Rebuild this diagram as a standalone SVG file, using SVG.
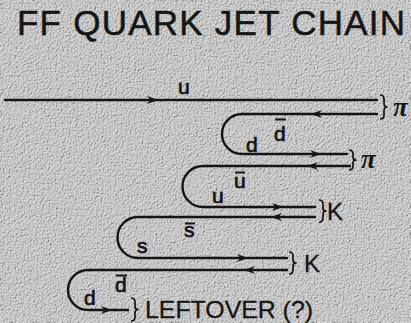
<svg xmlns="http://www.w3.org/2000/svg" xmlns:xlink="http://www.w3.org/1999/xlink" width="411" height="323" viewBox="0 0 411 323">
<style>
.ln{fill:none;stroke:#151515;stroke-width:2.4;stroke-linecap:round}
.br{fill:none;stroke:#151515;stroke-width:1.7;stroke-linejoin:round}
.ov{stroke:#151515;stroke-width:2}
.lb{font-family:"Liberation Sans",Arial,sans-serif;font-size:21px;fill:#151515;stroke:#151515;stroke-width:0.7}
.big{font-family:"Liberation Sans",Arial,sans-serif;font-size:24px;fill:#151515;stroke:#151515;stroke-width:0.3}
.pi{font-family:"Liberation Serif","DejaVu Serif",serif;font-style:italic;font-weight:bold;font-size:27px;fill:#151515}
.ttl{font-family:"Liberation Sans",Arial,sans-serif;font-size:35px;fill:#151515;stroke:#151515;stroke-width:0.5}
</style>
<defs>
<filter id="tex" x="0" y="0" width="100%" height="100%">
<feTurbulence type="fractalNoise" baseFrequency="0.85" numOctaves="2" seed="7" result="n"/>
<feDiffuseLighting in="n" surfaceScale="2.4" diffuseConstant="1.05" lighting-color="#d6d6d6"><feDistantLight azimuth="225" elevation="55"/></feDiffuseLighting>
</filter>
<path id="ar" d="M0,0 L-11,-4 L-7.5,0 L-11,4 Z" fill="#151515"/>
</defs>
<rect x="0" y="0" width="411" height="323" fill="#c6c6c6"/>
<rect x="0" y="0" width="411" height="323" filter="url(#tex)"/>
<g id="title"><text class="ttl" x="17" y="35" textLength="388" lengthAdjust="spacing">FF QUARK JET CHAIN</text></g>
<g id="connectors">
<path class="ln" d="M5,100 H377"/>
<path class="ln" d="M377,114 H242 A20,20 0 0 0 242,154 H347"/>
<path class="ln" d="M350,166 H203 A20.5,20.5 0 0 0 203,207 H315"/>
<path class="ln" d="M315,217 H138 A20.5,20.5 0 0 0 138,258 H287"/>
<path class="ln" d="M287,270 H88 A20,20 0 0 0 88,310 H128"/>
<use xlink:href="#ar" transform="translate(158,100)"/>
<use xlink:href="#ar" transform="translate(311,114) rotate(180)"/>
<use xlink:href="#ar" transform="translate(321,154)"/>
<use xlink:href="#ar" transform="translate(307,166) rotate(180)"/>
<use xlink:href="#ar" transform="translate(283,207)"/>
<use xlink:href="#ar" transform="translate(271,217) rotate(180)"/>
<use xlink:href="#ar" transform="translate(248,258)"/>
<use xlink:href="#ar" transform="translate(244,270) rotate(180)"/>
<use xlink:href="#ar" transform="translate(112,310)"/>
</g>
<g id="pi1">
<path class="br" d="M380,95 Q384,95 384,99 V103 Q384,107 387,107 Q384,107 384,111 V115 Q384,119 380,119"/>
<text class="pi" x="393" y="116">π</text>
</g>
<g id="pi2">
<path class="br" d="M349,150 Q353,150 353,154 V157 Q353,160 356,160 Q353,160 353,163 V166 Q353,170 349,170"/>
<text class="pi" x="361" y="168">π</text>
</g>
<g id="k1">
<path class="br" d="M319,200 Q323,200 323,204 V208 Q323,211 326,211 Q323,211 323,214 V218 Q323,222 319,222"/>
<text class="big" x="327" y="220">K</text>
</g>
<g id="k2">
<path class="br" d="M289,252 Q293,252 293,256 V260 Q293,263 296,263 Q293,263 293,266 V270 Q293,274 289,274"/>
<text class="big" x="304" y="272">K</text>
</g>
<g id="leftover">
<path class="br" d="M131,298 Q135,298 135,302 V306 Q135,309.5 138,309.5 Q135,309.5 135,313 V317 Q135,321 131,321"/>
<text class="big" x="145" y="318" textLength="168" lengthAdjust="spacingAndGlyphs">LEFTOVER (?)</text>
</g>
<g id="labels">
<text class="lb" x="178" y="94">u</text>
<text class="lb" x="246" y="152">d</text>
<text class="lb" x="274" y="141">d</text><line class="ov" x1="275" y1="119.5" x2="286" y2="119.5"/>
<text class="lb" x="234" y="188">u</text><line class="ov" x1="235" y1="172.5" x2="245" y2="172.5"/>
<text class="lb" x="212" y="203">u</text>
<text class="lb" x="184" y="237">s</text><line class="ov" x1="185" y1="223.5" x2="195" y2="223.5"/>
<text class="lb" x="137" y="253">s</text>
<text class="lb" x="84" y="305">d</text>
<text class="lb" x="115" y="292">d</text><line class="ov" x1="116" y1="275.5" x2="127" y2="275.5"/>
</g>
</svg>
